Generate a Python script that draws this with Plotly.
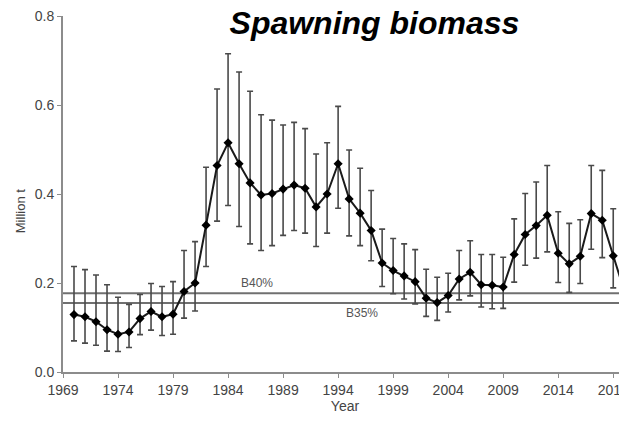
import numpy as np
import plotly.graph_objects as go

# ---- data -----------------------------------------------------------------
years = list(range(1970, 2021))
biomass = [0.129, 0.124, 0.113, 0.095, 0.085, 0.090, 0.120, 0.136, 0.124, 0.130,
           0.181, 0.200, 0.330, 0.464, 0.515, 0.468, 0.425, 0.398, 0.401, 0.411,
           0.420, 0.413, 0.371, 0.400, 0.468, 0.389, 0.357, 0.318, 0.245, 0.228,
           0.216, 0.203, 0.166, 0.156, 0.172, 0.209, 0.224, 0.196, 0.195, 0.191,
           0.264, 0.309, 0.329, 0.352, 0.267, 0.243, 0.260, 0.356, 0.341, 0.261,
           0.182]
upper = [0.237, 0.230, 0.218, 0.196, 0.168, 0.152, 0.174, 0.199, 0.192, 0.203,
         0.273, 0.293, 0.460, 0.636, 0.715, 0.674, 0.631, 0.578, 0.566, 0.555,
         0.561, 0.547, 0.490, 0.515, 0.597, 0.499, 0.458, 0.408, 0.321, 0.300,
         0.288, 0.275, 0.231, 0.213, 0.222, 0.273, 0.295, 0.264, 0.264, 0.258,
         0.344, 0.401, 0.427, 0.464, 0.360, 0.334, 0.342, 0.464, 0.453, 0.367,
         0.273]
lower = [0.070, 0.065, 0.060, 0.047, 0.046, 0.055, 0.084, 0.094, 0.082, 0.085,
         0.121, 0.137, 0.237, 0.339, 0.374, 0.327, 0.288, 0.273, 0.284, 0.307,
         0.318, 0.312, 0.282, 0.312, 0.368, 0.306, 0.284, 0.250, 0.192, 0.176,
         0.164, 0.153, 0.125, 0.116, 0.135, 0.162, 0.171, 0.146, 0.142, 0.143,
         0.202, 0.240, 0.256, 0.270, 0.201, 0.179, 0.199, 0.276, 0.257, 0.189,
         0.125]
b40 = 0.177
b35 = 0.155
x_ticks = [1969, 1974, 1979, 1984, 1989, 1994, 1999, 2004, 2009, 2014, 2019]
y_ticks = [0.0, 0.2, 0.4, 0.6, 0.8]

FONT = "Arial, Liberation Sans, sans-serif"
mid = np.array(biomass)

fig = go.Figure()
for level in (b40, b35):
    fig.add_trace(go.Scatter(x=[1969, 2020.25], y=[level, level], mode="lines",
                             line=dict(color="#707070", width=2),
                             hoverinfo="skip", showlegend=False))

fig.add_trace(go.Scatter(
    x=years, y=biomass, mode="lines+markers", showlegend=False, cliponaxis=False,
    line=dict(color="#1a1a1a", width=2),
    marker=dict(symbol="diamond", size=7, color="#000000"),
    error_y=dict(type="data", symmetric=False,
                 array=np.array(upper) - mid, arrayminus=mid - np.array(lower),
                 color="#4a4a4a", thickness=1.6, width=3)))

fig.add_annotation(x=1986.6, y=b40, yshift=10, text="B40%", showarrow=False,
                   font=dict(family=FONT, size=12, color="#555555"))
fig.add_annotation(x=1996.2, y=b35, yshift=-10, text="B35%", showarrow=False,
                   font=dict(family=FONT, size=12, color="#555555"))
fig.add_annotation(x=-0.076, y=0.452, xref="paper", yref="paper", text="Million t",
                   textangle=-90, showarrow=False, xanchor="center", yanchor="middle",
                   font=dict(family=FONT, size=13, color="#444444"))

# the page body adds an 8px offset, so the figure is 8px smaller than the window
fig.update_layout(
    width=619, height=414, plot_bgcolor="white", paper_bgcolor="white",
    margin=dict(l=55, r=0, t=8, b=50),
    font=dict(family=FONT, size=14, color="#444444"),
    title=dict(text="<b><i>Spawning biomass</i></b>", x=0.592, xanchor="center",
               y=0.965, yanchor="middle",
               font=dict(family=FONT, size=32, color="#000000")),
    xaxis=dict(range=[1969, 2020.25], tickvals=x_ticks, showgrid=False, zeroline=False,
               showline=True, linecolor="#8c8c8c", linewidth=2, automargin=False,
               ticks="outside", ticklen=4, tickcolor="#8c8c8c",
               ticklabeloverflow="allow",
               title=dict(text="Year", font=dict(size=14), standoff=4)),
    yaxis=dict(range=[0, 0.8], tickvals=y_ticks, tickformat=".1f", showgrid=False,
               zeroline=False, showline=True, linecolor="#8c8c8c", linewidth=2,
               automargin=False, ticks="outside", ticklen=4, tickcolor="#8c8c8c",
               ticklabeloverflow="allow"),
)

fig.write_html("out.html")
